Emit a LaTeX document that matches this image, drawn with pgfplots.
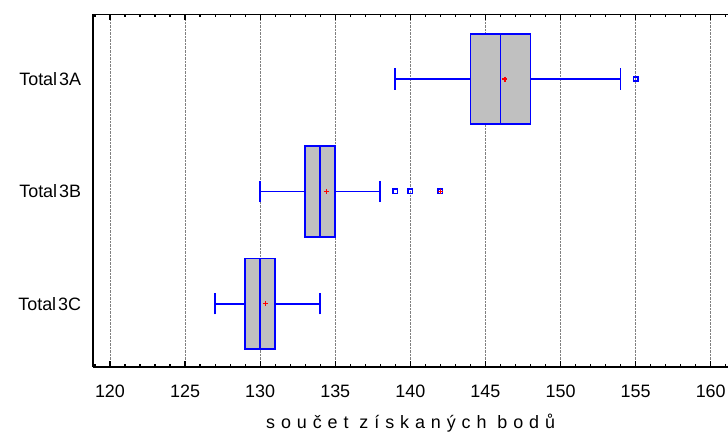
\documentclass[border=0pt]{standalone}
\usepackage{fontspec}
\setmainfont{Liberation Sans}
\usepackage{pgfplots}
\pgfplotsset{compat=1.18}
\usepgfplotslibrary{statistics}
\definecolor{boxgray}{RGB}{192,192,192}
\definecolor{gridgray}{RGB}{128,128,128}
\begin{document}
\fontsize{18}{20}\selectfont
\begin{tikzpicture}
\begin{axis}[
  scale only axis, width=634.7bp, height=352.2bp,
  xmin=118.89, xmax=161.15, ymin=0.44, ymax=3.574,
  separate axis lines,
  x axis line style={-, line width=1.7bp, black},
  y axis line style={draw=none},
  xtick={120,125,...,160},
  tick align=inside,
  major tick length=6bp, minor tick length=3bp,
  xtick style={draw=none},
  ytick style={draw=none},
  xmajorgrids, grid style={densely dotted, gridgray, line width=0.9bp},
  ytick={1,2,3}, yticklabels={Total\hspace{2bp}3C,Total\hspace{2bp}3B,Total\hspace{2bp}3A},
  /pgf/number format/assume math mode=true,
  xticklabel style={font=\fontsize{18}{20}\selectfont, yshift=-12bp},
  yticklabel style={font=\fontsize{18}{20}\selectfont, xshift=-6bp},
  xlabel={\addfontfeature{LetterSpace=33}součet získaných bodů},
  xlabel style={font=\fontsize{18}{20}\selectfont, at={(axis description cs:0.5,0)}, anchor=base, yshift=-62bp},
  clip=false,
]
\addplot[draw=blue, fill=boxgray, line width=1.7bp,
  boxplot prepared={median=146, upper quartile=148, lower quartile=144,
    upper whisker=154, lower whisker=139, draw position=3,
    box extend=0.806, whisker extend=0.19}] coordinates {};
\addplot[draw=blue, fill=boxgray, line width=1.7bp,
  boxplot prepared={median=134, upper quartile=135, lower quartile=133,
    upper whisker=138, lower whisker=130, draw position=2,
    box extend=0.806, whisker extend=0.19}] coordinates {};
\addplot[draw=blue, fill=boxgray, line width=1.7bp,
  boxplot prepared={median=130, upper quartile=131, lower quartile=129,
    upper whisker=134, lower whisker=127, draw position=1,
    box extend=0.806, whisker extend=0.19}] coordinates {};
% outliers
\addplot[only marks, mark=square, mark size=2.2bp, blue, line width=1.5bp]
  coordinates {(155,3) (139,2) (140,2) (142,2)};
% means
\addplot[only marks, mark=+, mark size=2.5bp, red, line width=1.4bp]
  coordinates {(146.3,3) (134.4,2) (130.37,1)};
% far outlier marker
\addplot[only marks, mark=+, mark size=2.5bp, red, line width=1.4bp]
  coordinates {(142,2)};
\draw[black, line width=1.7bp] (rel axis cs:0,0) -- (rel axis cs:0,1);
\coordinate (SW) at (rel axis cs:0,0);
\coordinate (NW) at (rel axis cs:0,1);
\coordinate (NE) at (rel axis cs:1,1);
\end{axis}
% tick marks on top and bottom axis lines (minor every 1, major every 5)
\foreach \v in {119,...,161} {
  \draw[black, line width=1.2bp] ([xshift={(\v-118.89)*15.0189bp}]SW) -- ++(0,2.5bp);
  \draw[black, line width=1.2bp] ([xshift={(\v-118.89)*15.0189bp}]NW) -- ++(0,-2.5bp);
}
\foreach \v in {120,125,...,160} {
  \draw[black, line width=1.3bp] ([xshift={(\v-118.89)*15.0189bp}]SW) -- ++(0,5.5bp);
  \draw[black, line width=1.3bp] ([xshift={(\v-118.89)*15.0189bp}]NW) -- ++(0,-5.5bp);
}
\pgfresetboundingbox
\path[use as bounding box] ([xshift=-93.3bp,yshift=-65.3bp]SW) rectangle ([yshift=14.5bp]NE);
\end{tikzpicture}
\end{document}
